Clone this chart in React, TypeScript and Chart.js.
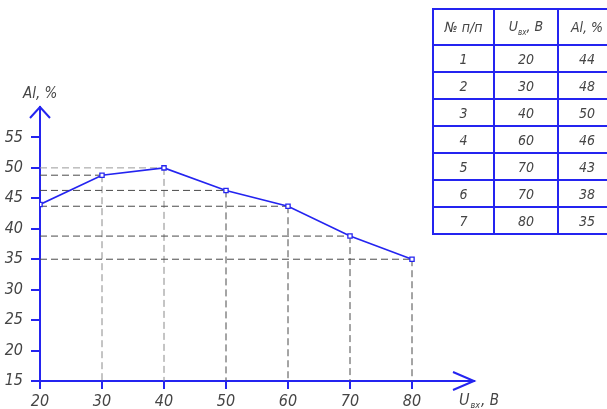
import React, { useEffect, useRef } from "react";
import { Chart, registerables } from "chart.js";

Chart.register(...registerables);

const voltages = [20, 30, 40, 50, 60, 70, 80];
const alValues = [44, 48.8, 50, 46.3, 43.7, 38.8, 35];
const xTickLimit = 80;
const yTickLimit = 55;

const tableNums = ["1", "2", "3", "4", "5", "6", "7"];
const tableU = ["20", "30", "40", "60", "70", "70", "80"];
const tableAl = ["44", "48", "50", "46", "43", "38", "35"];

const BLUE = "#2424f0";
const INK = "#454545";
const FONT = "'Liberation Sans Narrow', 'DejaVu Sans Condensed', 'Liberation Sans', sans-serif";

const guidePlugin = {
  id: "guides",
  beforeDatasetsDraw(chart: any) {
    const { ctx, scales } = chart;
    const xs = scales.x, ys = scales.y;
    const x0 = xs.getPixelForValue(xs.min);
    const y0 = ys.getPixelForValue(ys.min);
    const maxV = Math.max(...alValues);
    ctx.save();
    ctx.lineWidth = 1;
    ctx.setLineDash([7, 4]);
    voltages.forEach((v, i) => {
      const px = xs.getPixelForValue(v);
      const py = ys.getPixelForValue(alValues[i]);
      ctx.strokeStyle = alValues[i] === maxV ? "#9a9a9a" : "#4a4a4a";
      if (px > x0 + 1) {
        ctx.beginPath();
        ctx.moveTo(x0, py);
        ctx.lineTo(px, py);
        ctx.stroke();
        ctx.strokeStyle = i < 3 ? "#8a8a8a" : "#4a4a4a";
        ctx.beginPath();
        ctx.moveTo(px, py);
        ctx.lineTo(px, y0);
        ctx.stroke();
      }
    });
    ctx.restore();
  },
  afterDraw(chart: any) {
    const { ctx, chartArea } = chart;
    const { left, top, right, bottom } = chartArea;
    ctx.save();
    ctx.strokeStyle = BLUE;
    ctx.lineWidth = 2;
    ctx.setLineDash([]);
    // y arrow
    ctx.beginPath();
    ctx.moveTo(left - 10, top + 11);
    ctx.lineTo(left, top);
    ctx.lineTo(left + 10, top + 11);
    ctx.stroke();
    // x arrow
    ctx.beginPath();
    ctx.moveTo(right - 21, bottom - 9);
    ctx.lineTo(right, bottom);
    ctx.lineTo(right - 21, bottom + 9);
    ctx.stroke();
    // titles
    ctx.fillStyle = INK;
    ctx.textBaseline = "alphabetic";
    ctx.textAlign = "left";
    ctx.font = `italic 15px ${FONT}`;
    ctx.fillText("Al, %", 23, 98);
    ctx.font = `italic 16px ${FONT}`;
    const ux = right - 15;
    ctx.fillText("U", ux, 405);
    const uw = ctx.measureText("U").width;
    ctx.font = `italic 9px ${FONT}`;
    ctx.fillText("вх", ux + uw + 1, 408);
    const sw = ctx.measureText("вх").width;
    ctx.font = `italic 15px ${FONT}`;
    ctx.fillText(", В", ux + uw + sw + 2, 405);
    ctx.restore();
  },
};

function DataTable() {
  const cell: React.CSSProperties = {
    border: `2px solid ${BLUE}`,
    textAlign: "center",
    padding: 0,
    fontStyle: "italic",
    color: INK,
    fontFamily: FONT,
    fontSize: 14,
  };
  return (
    <table
      style={{
        position: "absolute",
        left: 432,
        top: 8,
        borderCollapse: "collapse",
        tableLayout: "fixed",
        width: 183,
      }}
    >
      <colgroup>
        <col style={{ width: 61 }} />
        <col style={{ width: 64 }} />
        <col style={{ width: 58 }} />
      </colgroup>
      <tbody>
        <tr style={{ height: 36 }}>
          <td style={cell}>№ п/п</td>
          <td style={cell}>
            U<sub style={{ fontSize: 8 }}>вх</sub>, В
          </td>
          <td style={cell}>Al, %</td>
        </tr>
        {tableNums.map((n, i) => (
          <tr key={n} style={{ height: 27 }}>
            <td style={cell}>{n}</td>
            <td style={cell}>{tableU[i]}</td>
            <td style={cell}>{tableAl[i]}</td>
          </tr>
        ))}
      </tbody>
    </table>
  );
}

export default function App() {
  const ref = useRef<HTMLCanvasElement | null>(null);
  useEffect(() => {
    if (!ref.current) return;
    const chart = new Chart(ref.current, {
      type: "line",
      data: {
        datasets: [
          {
            data: voltages.map((v, i) => ({ x: v, y: alValues[i] })),
            borderColor: BLUE,
            borderWidth: 1.6,
            pointStyle: "rect",
            pointRadius: 3,
            pointBorderWidth: 1.3,
            pointBorderColor: BLUE,
            pointBackgroundColor: "#ffffff",
            tension: 0,
          },
        ],
      },
      options: {
        animation: false,
        responsive: false,
        events: [],
        layout: { padding: { left: 0, top: 107, right: 133, bottom: 0 } },
        plugins: { legend: { display: false }, tooltip: { enabled: false } },
        scales: {
          x: {
            type: "linear",
            min: 20,
            max: 90,
            afterFit: (s: any) => {
              s.height = 28;
            },
            border: { display: true, color: BLUE, width: 2 },
            grid: {
              drawOnChartArea: false,
              drawTicks: true,
              tickLength: 8,
              lineWidth: 2,
              color: (c: any) => (c.tick && c.tick.value > xTickLimit ? "rgba(0,0,0,0)" : BLUE),
            },
            ticks: {
              stepSize: 10,
              autoSkip: false,
              maxRotation: 0,
              padding: 3,
              color: INK,
              font: { family: FONT, size: 16, style: "italic" },
              callback: (v: any) => (Number(v) <= xTickLimit ? String(v) : ""),
            },
          },
          y: {
            type: "linear",
            min: 15,
            max: 60,
            afterFit: (s: any) => {
              s.width = 40;
            },
            border: { display: true, color: BLUE, width: 2 },
            grid: {
              drawOnChartArea: false,
              drawTicks: true,
              tickLength: 9,
              lineWidth: 2,
              color: (c: any) => (c.tick && c.tick.value > yTickLimit ? "rgba(0,0,0,0)" : BLUE),
            },
            ticks: {
              stepSize: 5,
              autoSkip: false,
              padding: 8,
              color: INK,
              font: { family: FONT, size: 16, style: "italic" },
              callback: (v: any) => (Number(v) <= yTickLimit ? String(v) : ""),
            },
          },
        },
      },
      plugins: [guidePlugin],
    });
    return () => chart.destroy();
  }, []);

  return (
    <div
      style={{
        position: "absolute",
        left: 0,
        top: 0,
        width: 607,
        height: 409,
        overflow: "hidden",
        background: "#ffffff",
      }}
    >
      <canvas ref={ref} width={607} height={409} style={{ display: "block" }} />
      <DataTable />
    </div>
  );
}
